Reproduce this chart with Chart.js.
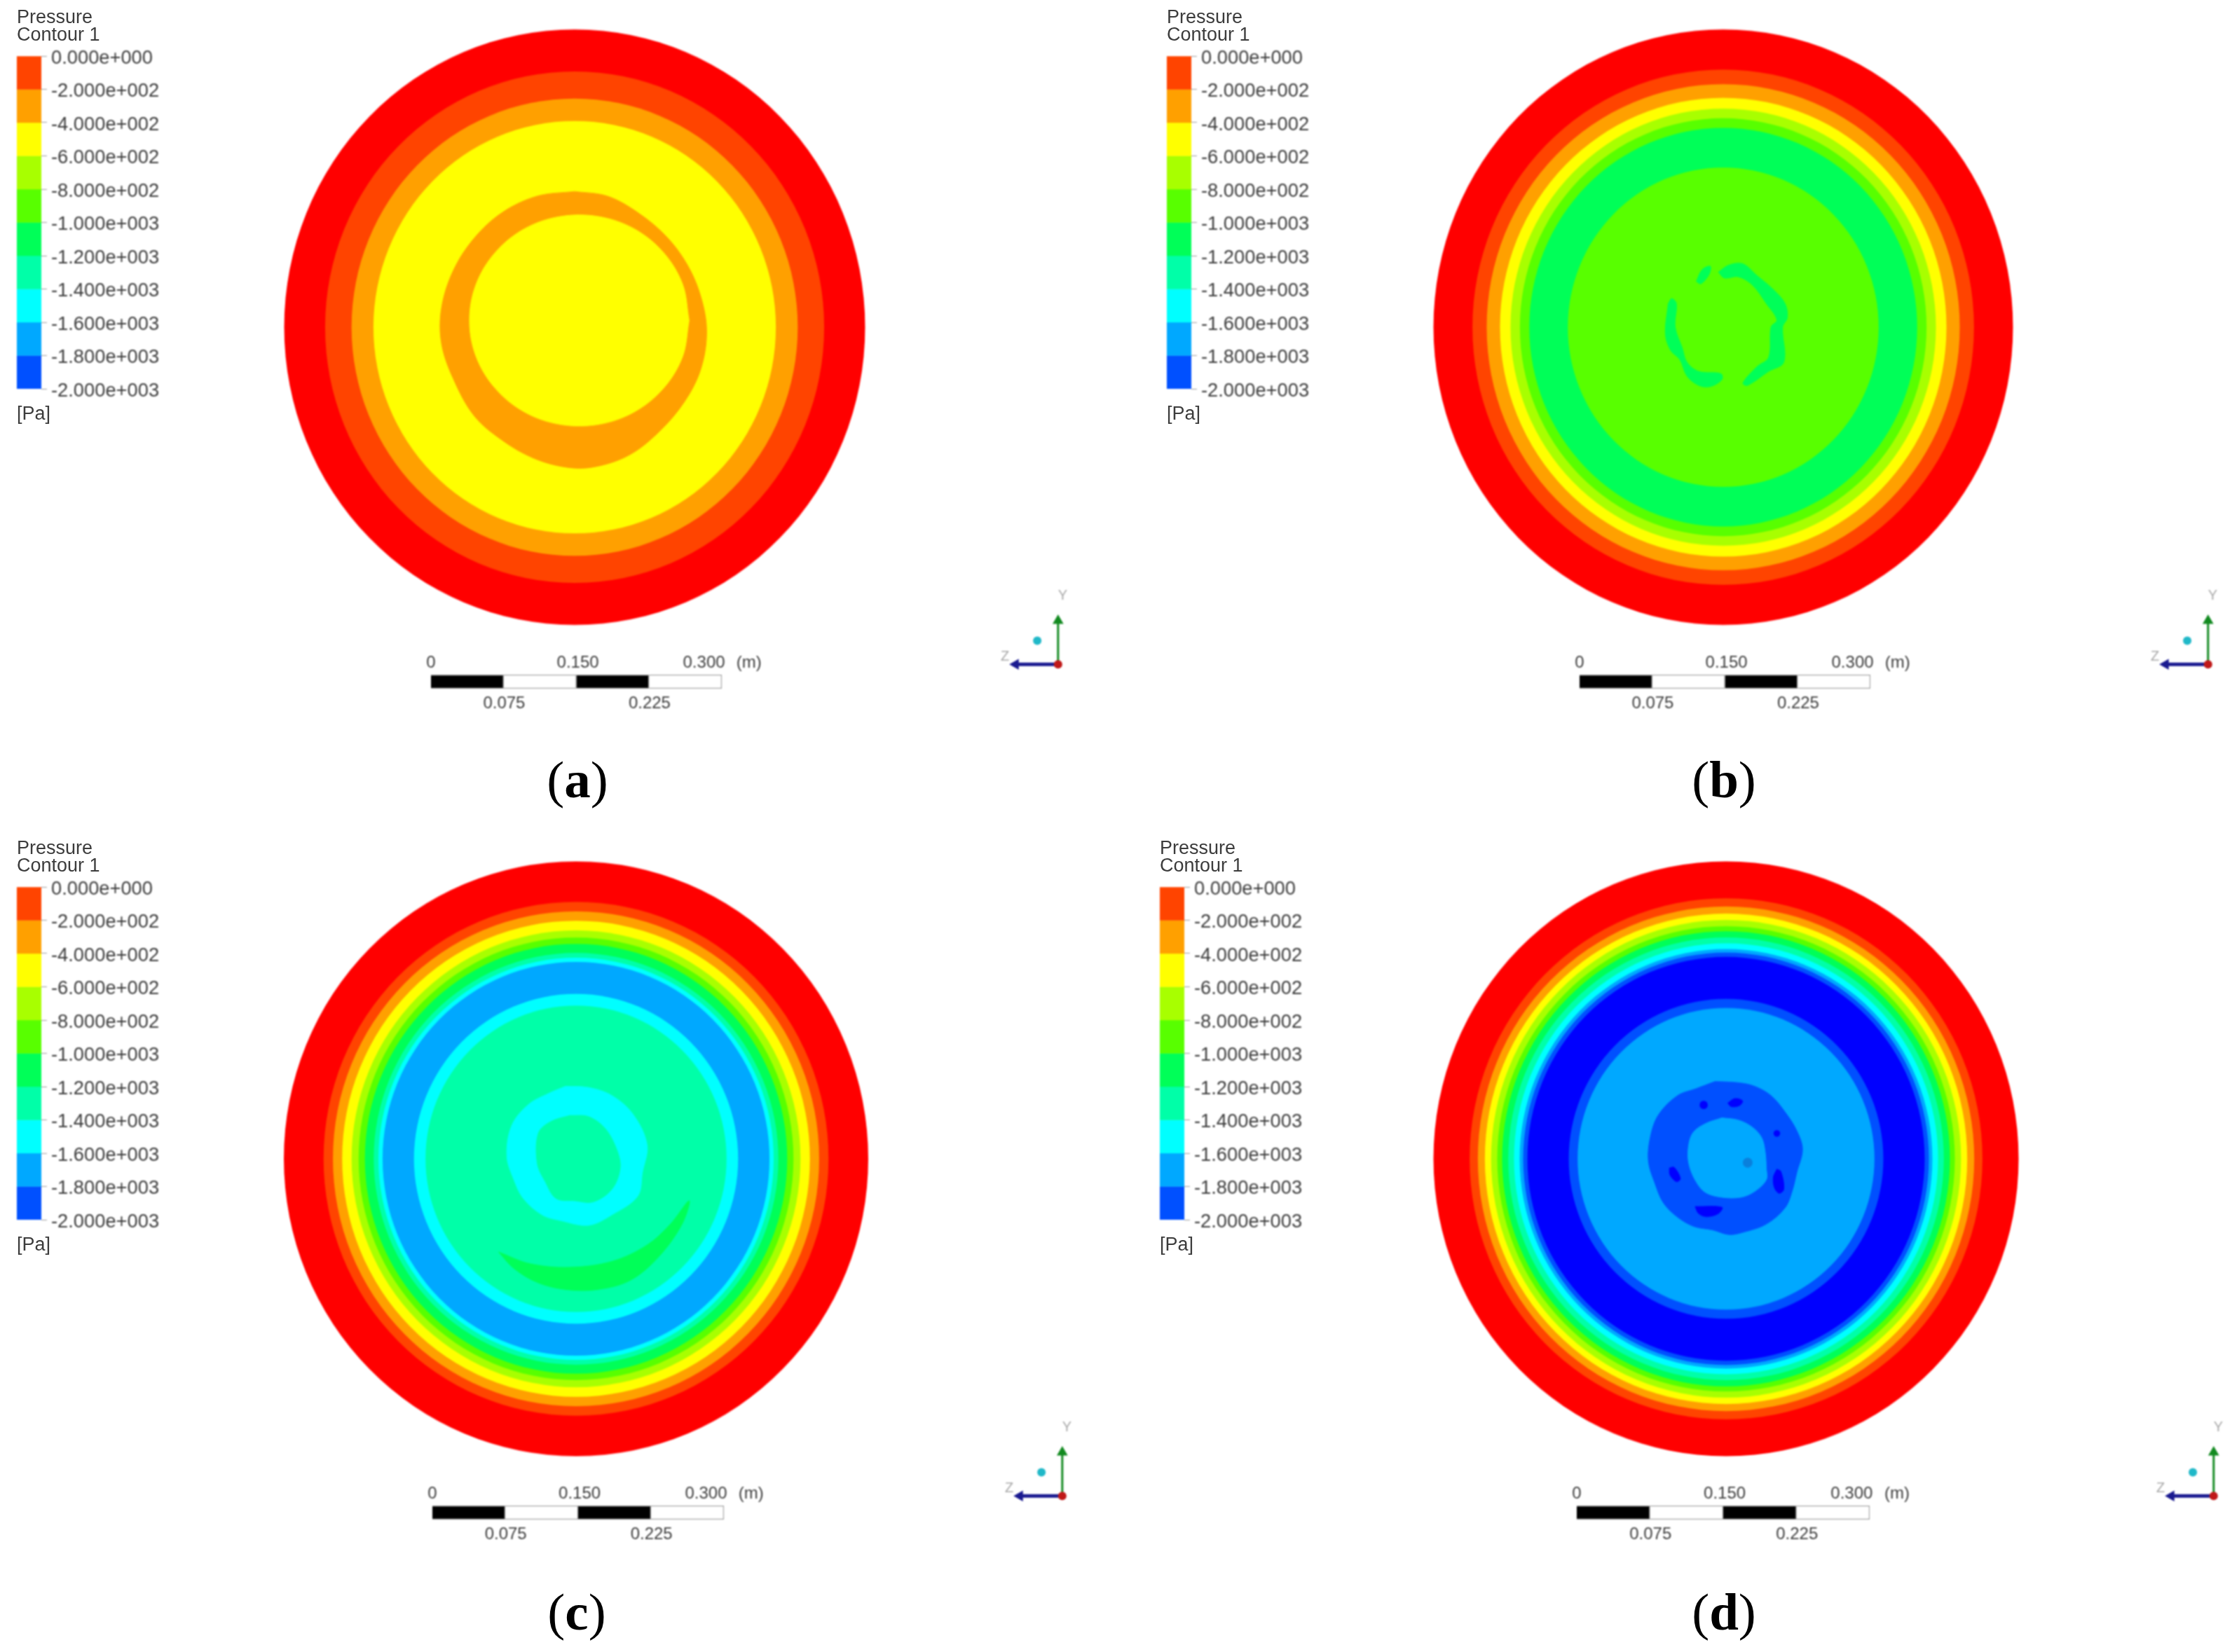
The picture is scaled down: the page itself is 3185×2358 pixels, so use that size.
<!DOCTYPE html>
<html>
<head>
<meta charset="utf-8">
<title>Pressure contours</title>
<script src="https://cdn.jsdelivr.net/npm/chart.js@4/dist/chart.umd.min.js"></script>
<style>
  html, body { margin: 0; padding: 0; background: #fff; }
  #page { position: relative; width: 3185px; height: 2358px; overflow: hidden; background: #fff; }
  #page canvas { position: absolute; filter: blur(0.9px); }
  .txt { position: absolute; font-family: "Liberation Sans", sans-serif; font-size: 27px; line-height: 30px; color: #3c3c3c; white-space: nowrap; filter: blur(0.5px); }
  .cap { position: absolute; font-family: "Liberation Serif", serif; font-size: 75px; line-height: 80px; color: #000; width: 200px; text-align: center; }
  .cap b { font-weight: bold; }
</style>
</head>
<body>
<div id="page"></div>
<script>
// legend levels in Pa, top to bottom
const legendLevels = [0, -200, -400, -600, -800, -1000, -1200, -1400, -1600, -1800, -2000];
const bandColours = ['#ff0000', '#ff4400', '#ffa000', '#ffff00', '#a8ff00', '#58ff00', '#00ff58', '#00ffa8', '#00ffff', '#00a8ff', '#0050ff', '#0000ff', '#0a80dc'];
const legendBands = [1, 2, 3, 4, 5, 6, 7, 8, 9, 10];

// scale bar, metres
const scaleEdges = [0, 0.075, 0.15, 0.225, 0.3];
const scaleTop = [[0, '0'], [0.1515, '0.150'], [0.2816, '0.300'], [0.328, '(m)']];
const scaleBottom = [[0.0755, '0.075'], [0.2255, '0.225']];

// concentric contour radii (m) and their colour band
const ringsA = [0.30, 0.2577, 0.2304, 0.2078];
const ringBandsA = [0, 1, 2, 3];
const ringsB = [0.30, 0.2596, 0.2449, 0.2311, 0.2202, 0.2105, 0.2008, 0.1609];
const ringBandsB = [0, 1, 2, 3, 4, 5, 6, 5];
const ringsC = [0.30, 0.2592, 0.2496, 0.2401, 0.2304, 0.2232, 0.2168, 0.2077, 0.2029, 0.1986, 0.1664, 0.1545];
const ringBandsC = [0, 1, 2, 3, 4, 5, 6, 7, 8, 9, 8, 7];
const ringsD = [0.30, 0.2629, 0.2545, 0.2473, 0.2409, 0.2346, 0.2296, 0.2233, 0.2174, 0.2116, 0.2080, 0.2037, 0.1613, 0.1522];
const ringBandsD = [0, 1, 2, 3, 4, 5, 6, 7, 8, 9, 10, 11, 10, 9];

// irregular contours, [y, z] in metres
const crescentOuterA = [[0, .1367], [.0338, .1320], [.0652, .1155], [.0941, .0920], [.1158, .0638], [.1303, .0308], [.1363, -.0045], [.1303, -.0421], [.1134, -.0751], [.0869, -.1056], [.0555, -.1292], [.0193, -.1409], [-.0097, -.1409], [-.0434, -.1315], [-.0748, -.1139], [-.1038, -.0892], [-.1255, -.0515], [-.1375, -.0162], [-.1375, .0191], [-.1255, .0567], [-.1038, .0896], [-.0748, .1155], [-.0386, .1320]];
const crescentInnerA = [[.1182, .0068], [.1115, .0433], [.0917, .0753], [.0615, .0991], [.0246, .1115], [-.0150, .1115], [-.0519, .0991], [-.0820, .0753], [-.1018, .0433], [-.1086, .0068], [-.1018, -.0296], [-.0820, -.0616], [-.0519, -.0854], [-.0150, -.0979], [.0246, -.0979], [.0615, -.0854], [.0917, -.0616], [.1115, -.0296]];

const patchTopB = [[-.0279, .0461], [-.0219, .0579], [-.0134, .0614], [-.0146, .0532], [-.0231, .0438]];
const patchRightB = [[-.0050, .0555], [.0059, .0626], [.0204, .0638], [.0349, .0520], [.0519, .0379], [.0640, .0238], [.0664, .0096], [.0615, .0002], [.0628, -.0351], [.0470, -.0445], [.0253, -.0586], [.0204, -.0562], [.0349, -.0398], [.0470, -.0304], [.0495, .0002], [.0555, .0073], [.0446, .0238], [.0301, .0426], [.0156, .0508], [.0011, .0496]];
const patchLeftB = [[-.0570, .0238], [-.0533, .0289], [-.0485, .0238], [-.0497, .0002], [-.0424, -.0209], [-.0376, -.0351], [-.0255, -.0445], [-.0025, -.0468], [-.0013, -.0527], [-.0134, -.0598], [-.0255, -.0586], [-.0376, -.0492], [-.0449, -.0327], [-.0545, -.0233], [-.0599, -.0068]];

const loopOuterC = [[-.0110, .0731], [.0129, .0719], [.0369, .0637], [.0585, .0449], [.0729, .0142], [.0681, -.0140], [.0633, -.0376], [.0369, -.0564], [.0129, -.0670], [-.0158, -.0623], [-.0350, -.0564], [-.0542, -.0399], [-.0638, -.0211], [-.0710, .0025], [-.0662, .0331], [-.0494, .0543], [-.0278, .0661]];
const loopInnerC = [[-.0062, .0437], [.0129, .0425], [.0297, .0307], [.0417, .0095], [.0453, -.0093], [.0369, -.0305], [.0177, -.0434], [-.0014, -.0423], [-.0206, -.0399], [-.0314, -.0234], [-.0398, -.0046], [-.0386, .0260], [-.0254, .0378]];
const crescentC = [[-.0794, -.0941], [-.0470, -.1059], [-.0062, -.1094], [.0369, -.1035], [.0729, -.0870], [.0969, -.0658], [.1161, -.0423], [.1089, -.0658], [.0849, -.0988], [.0561, -.1223], [.0225, -.1318], [-.0110, -.1318], [-.0398, -.1247], [-.0638, -.1106]];

const loopOuterD = [[-.0114, .0779], [.0126, .0767], [.0293, .0731], [.0461, .0637], [.0605, .0472], [.0725, .0284], [.0784, .0095], [.0725, -.0140], [.0677, -.0329], [.0605, -.0494], [.0413, -.0658], [.0174, -.0741], [.0030, -.0764], [-.0138, -.0717], [-.0329, -.0682], [-.0497, -.0588], [-.0641, -.0446], [-.0725, -.0258], [-.0796, -.0022], [-.0772, .0237], [-.0689, .0449], [-.0497, .0637], [-.0305, .0708]];
const loopInnerD = [[-.0042, .0413], [.0126, .0390], [.0269, .0319], [.0365, .0213], [.0401, .0072], [.0413, -.0093], [.0413, -.0211], [.0293, -.0329], [.0150, -.0388], [-.0042, -.0388], [-.0210, -.0340], [-.0305, -.0234], [-.0377, -.0069], [-.0389, .0095], [-.0341, .0260], [-.0210, .0355]];
const spotTopD = [[.0018, .0562], [.0090, .0607], [.0169, .0585], [.0138, .0538], [.0054, .0527]];
const spotLeftD = [[-.0581, -.0093], [-.0533, -.0086], [-.0468, -.0199], [-.0509, -.0230], [-.0574, -.0164]];
const spotRightD = [[.0521, -.0105], [.0562, -.0128], [.0593, -.0305], [.0545, -.0347], [.0497, -.0293], [.0485, -.0187]];
const spotBottomD = [[-.0317, -.0482], [-.0042, -.0489], [-.0078, -.0552], [-.0198, -.0583], [-.0281, -.0552]];
// small round spots: y, z, radius
const dotsD = [[-.0229, .0543, .0042], [.0521, .0256, .0034], [.0222, -.0039, .0050]];
const dotBandsD = [11, 11, 12];

// triad axes in arbitrary units
const triadY = [[0, 0], [0, 1]];
const triadZ = [[0, 0], [-1, 0]];
const triadOrigin = [[0, 0]];
const triadBall = [[-0.49, 0.54]];

const page = document.getElementById('page');

function addCanvas(left, top, w, h) {
  const c = document.createElement('canvas');
  c.width = w;
  c.height = h;
  c.style.left = left + 'px';
  c.style.top = top + 'px';
  c.style.width = w + 'px';
  c.style.height = h + 'px';
  page.appendChild(c);
  return c;
}

function addText(cls, left, top, html) {
  const d = document.createElement('div');
  d.className = cls;
  d.style.left = left + 'px';
  d.style.top = top + 'px';
  d.innerHTML = html;
  page.appendChild(d);
}

const baseOptions = {
  responsive: false,
  animation: false,
  events: [],
  plugins: { legend: { display: false }, tooltip: { enabled: false } }
};

// text drawn at scale values, used by the scale bar and the triad
const valueLabels = {
  id: 'valueLabels',
  afterDatasetsDraw(chart, args, opts) {
    const ctx = chart.ctx;
    const x = chart.scales.x, y = chart.scales.y;
    ctx.save();
    ctx.font = opts.font;
    ctx.fillStyle = opts.color;
    ctx.textAlign = 'center';
    ctx.textBaseline = 'middle';
    (opts.above || []).forEach(([v, t]) => ctx.fillText(t, x.getPixelForValue(v), chart.chartArea.top - opts.gapTop));
    (opts.below || []).forEach(([v, t]) => ctx.fillText(t, x.getPixelForValue(v), chart.chartArea.bottom + opts.gapBottom));
    (opts.at || []).forEach(([a, b, t]) => ctx.fillText(t, x.getPixelForValue(a), y.getPixelForValue(b)));
    ctx.restore();
  }
};

function toXY(list) {
  return list.map(([x, y]) => ({ x, y }));
}

function ringDataset(cx, cy, r, band) {
  return {
    data: [{ x: cx, y: cy }],
    pointRadius: ctx => {
      const s = ctx.chart.scales.x;
      return Math.abs(s.getPixelForValue(r) - s.getPixelForValue(0));
    },
    pointBackgroundColor: bandColours[band],
    pointBorderWidth: 0
  };
}

function loopDataset(points, band) {
  const closed = toXY(points.concat([points[0]]));
  return {
    data: closed,
    showLine: true,
    fill: 'shape',
    tension: 0.35,
    pointRadius: 0,
    borderWidth: 1,
    borderColor: bandColours[band],
    backgroundColor: bandColours[band]
  };
}

function drawDisc(cx, cy, rx, ry, rings, bands, extras) {
  const half = 450;
  const lim = 0.3 * half / rx;
  const c = addCanvas(cx - half, cy - half, half * 2, half * 2);
  c.style.transform = 'scaleY(' + (ry / rx) + ')';
  const layers = rings.map((r, i) => ringDataset(0, 0, r, bands[i])).concat(extras);
  layers.forEach((d, i) => { d.order = layers.length - i; });
  new Chart(c, {
    type: 'scatter',
    data: { datasets: layers },
    options: {
      ...baseOptions,
      layout: { padding: 0 },
      scales: {
        x: { display: false, min: -lim, max: lim },
        y: { display: false, min: -lim, max: lim }
      }
    }
  });
}

function expLabel(v) {
  return Number(v).toExponential(3).replace(/e([+-])(\d+)/, (m, s, d) => 'e' + s + d.padStart(3, '0'));
}

function drawLegend(left, top) {
  addText('txt', left, top - 80 + 9, 'Pressure');
  addText('txt', left, top - 80 + 34, 'Contour 1');
  addText('txt', left, top - 80 + 575, '[Pa]');
  const pad = 30, barW = 35, axisW = 180;
  const barH = 475;
  const c = addCanvas(left, top - pad, barW + axisW, barH + pad * 2);
  new Chart(c, {
    type: 'bar',
    data: {
      labels: ['p'],
      datasets: legendBands.map((b, i) => ({
        data: [[legendLevels[i + 1], legendLevels[i]]],
        backgroundColor: bandColours[b],
        barPercentage: 1,
        categoryPercentage: 1,
        grouped: false
      }))
    },
    options: {
      ...baseOptions,
      layout: { padding: { top: pad, bottom: pad } },
      scales: {
        x: { display: false },
        y: {
          position: 'right',
          min: -2000,
          max: 0,
          afterFit: s => { s.width = axisW; },
          border: { display: false },
          grid: { drawOnChartArea: false, tickLength: 8, color: '#999' },
          ticks: {
            stepSize: 200,
            autoSkip: false,
            padding: 6,
            labelOffset: 3,
            color: '#3c3c3c',
            font: { family: 'Liberation Sans', size: 27.3 },
            callback: expLabel
          }
        }
      }
    }
  });
}

function drawScaleBar(left, top, w) {
  const padX = 40, padR = 110, padY = 36, h = 20;
  const c = addCanvas(left - padX, top - padY, w + padX + padR, h + padY * 2);
  new Chart(c, {
    type: 'bar',
    data: {
      labels: ['m'],
      datasets: scaleEdges.slice(1).map((e, i) => ({
        data: [[scaleEdges[i], e]],
        backgroundColor: i % 2 ? '#fff' : '#000',
        borderColor: '#a0a0a0',
        borderWidth: 1.5,
        barPercentage: 1,
        categoryPercentage: 1,
        grouped: false
      }))
    },
    options: {
      ...baseOptions,
      indexAxis: 'y',
      layout: { padding: { left: padX, right: padR, top: padY, bottom: padY } },
      scales: {
        x: { display: false, min: 0, max: 0.3 },
        y: { display: false }
      },
      plugins: {
        ...baseOptions.plugins,
        valueLabels: { font: '24px "Liberation Sans"', color: '#3c3c3c', gapTop: 17, gapBottom: 21, above: scaleTop, below: scaleBottom }
      }
    },
    plugins: [valueLabels]
  });
}

function drawTriad(ox, oy) {
  const unit = 71;
  const c = addCanvas(ox - Math.round(1.4 * unit), oy - Math.round(1.8 * unit), Math.round(1.7 * unit), Math.round(2.1 * unit));
  new Chart(c, {
    type: 'scatter',
    data: {
      datasets: [
        { data: toXY(triadOrigin), pointRadius: 6, pointBackgroundColor: '#c01818', pointBorderWidth: 0 },
        { data: toXY(triadBall), pointRadius: 6, pointBackgroundColor: '#20b8c8', pointBorderWidth: 0 },
        { data: toXY(triadY), showLine: true, borderColor: '#128a20', borderWidth: 3, pointStyle: 'triangle', rotation: 0, pointRadius: [0, 9], pointBackgroundColor: '#128a20', pointBorderWidth: 0 },
        { data: toXY(triadZ), showLine: true, borderColor: '#1a1a90', borderWidth: 5, pointStyle: 'triangle', rotation: -90, pointRadius: [0, 9], pointBackgroundColor: '#1a1a90', pointBorderWidth: 0 }
      ]
    },
    options: {
      ...baseOptions,
      layout: { padding: 0 },
      scales: {
        x: { display: false, min: -1.4, max: 0.3 },
        y: { display: false, min: -0.3, max: 1.8 }
      },
      plugins: {
        ...baseOptions.plugins,
        valueLabels: { font: '20px "Liberation Sans"', color: '#a8a8a8', at: [[0.11, 1.57, 'Y'], [-1.25, 0.17, 'Z']] }
      }
    },
    plugins: [valueLabels]
  });
}

function addCaption(cx, cy, letter) {
  addText('cap', cx - 100, cy - 42, '(<b>' + letter + '</b>)');
}

// panel (a)
drawDisc(820, 467, 414.5, 425, ringsA, ringBandsA, [
  loopDataset(crescentOuterA, 2),
  loopDataset(crescentInnerA, 3)
]);
drawLegend(24, 80);
drawScaleBar(615, 963, 415);
drawTriad(1515, 955);
addCaption(824, 1115, 'a');

// panel (b)
drawDisc(2458.5, 467, 413.5, 425, ringsB, ringBandsB, [
  loopDataset(patchTopB, 6),
  loopDataset(patchRightB, 6),
  loopDataset(patchLeftB, 6)
]);
drawLegend(1665, 80);
drawScaleBar(2254, 963, 415);
drawTriad(3156, 955);
addCaption(2460, 1115, 'b');

// panel (c)
drawDisc(822, 1653.5, 417, 424.5, ringsC, ringBandsC, [
  loopDataset(loopOuterC, 8),
  loopDataset(loopInnerC, 7),
  loopDataset(crescentC, 6)
]);
drawLegend(24, 1266);
drawScaleBar(617, 2149, 416);
drawTriad(1521, 2142);
addCaption(823, 2303, 'c');

// panel (d)
drawDisc(2462.5, 1653.5, 417.5, 424.5, ringsD, ringBandsD, [
  loopDataset(loopOuterD, 10),
  loopDataset(loopInnerD, 9),
  loopDataset(spotTopD, 11),
  loopDataset(spotLeftD, 11),
  loopDataset(spotRightD, 11),
  loopDataset(spotBottomD, 11)
].concat(dotsD.map(([x, y, r], i) => ringDataset(x, y, r, dotBandsD[i]))));
drawLegend(1655, 1266);
drawScaleBar(2250, 2149, 418);
drawTriad(3164, 2142);
addCaption(2460, 2303, 'd');
</script>
</body>
</html>
